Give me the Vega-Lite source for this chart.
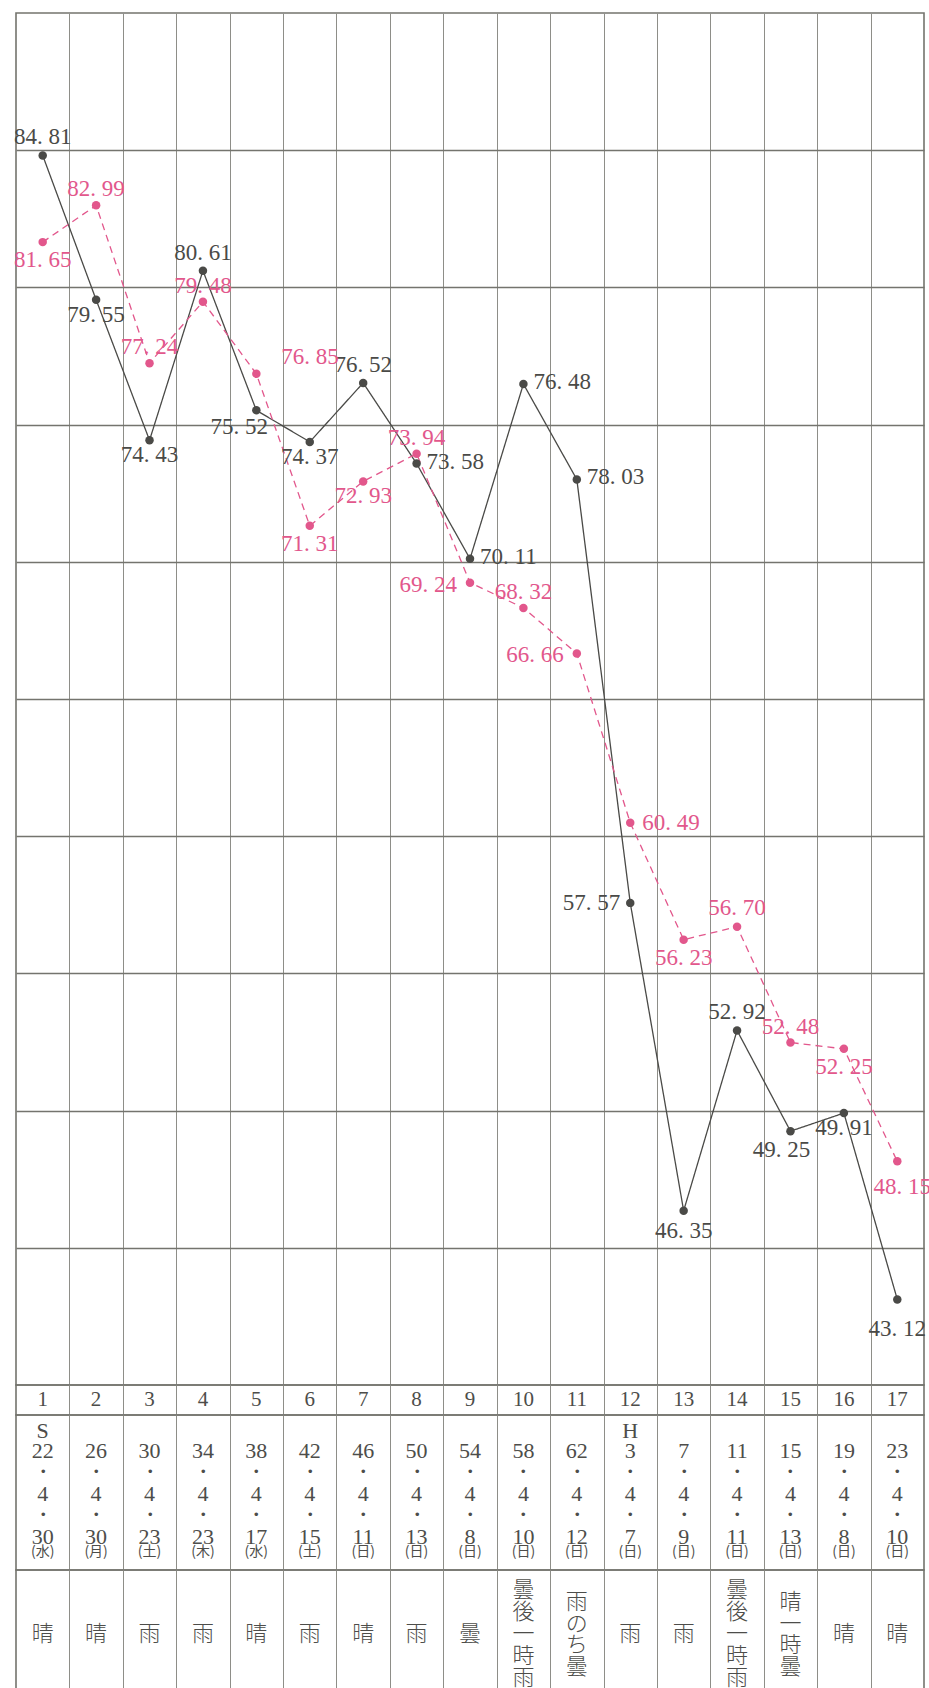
{
  "$schema": "https://vega.github.io/schema/vega-lite/v6.json",
  "padding": {"left": 13, "top": 12, "right": 8, "bottom": 0},
  "spacing": 0,
  "bounds": "flush",
  "background": "white",
  "config": {
    "view": {"stroke": "#74746d", "strokeWidth": 1.6},
    "axis": {"labels": false, "ticks": false, "domain": false, "title": null, "minExtent": 0, "maxExtent": 0, "grid": true, "gridColor": "#8e8e88", "gridWidth": 1, "gridOpacity": 1},
    "text": {"font": "Liberation Serif"}
  },
  "datasets": {
    "rates": [
      {"n": 1, "series": "a", "v": 84.81, "label": "84.81"},
      {"n": 2, "series": "a", "v": 79.55, "label": "79.55"},
      {"n": 3, "series": "a", "v": 74.43, "label": "74.43"},
      {"n": 4, "series": "a", "v": 80.61, "label": "80.61"},
      {"n": 5, "series": "a", "v": 75.52, "label": "75.52"},
      {"n": 6, "series": "a", "v": 74.37, "label": "74.37"},
      {"n": 7, "series": "a", "v": 76.52, "label": "76.52"},
      {"n": 8, "series": "a", "v": 73.58, "label": "73.58"},
      {"n": 9, "series": "a", "v": 70.11, "label": "70.11"},
      {"n": 10, "series": "a", "v": 76.48, "label": "76.48"},
      {"n": 11, "series": "a", "v": 73.0, "label": "78.03"},
      {"n": 12, "series": "a", "v": 57.57, "label": "57.57"},
      {"n": 13, "series": "a", "v": 46.35, "label": "46.35"},
      {"n": 14, "series": "a", "v": 52.92, "label": "52.92"},
      {"n": 15, "series": "a", "v": 49.25, "label": "49.25"},
      {"n": 16, "series": "a", "v": 49.91, "label": "49.91"},
      {"n": 17, "series": "a", "v": 43.12, "label": "43.12"},
      {"n": 1, "series": "b", "v": 81.65, "label": "81.65"},
      {"n": 2, "series": "b", "v": 82.99, "label": "82.99"},
      {"n": 3, "series": "b", "v": 77.24, "label": "77.24"},
      {"n": 4, "series": "b", "v": 79.48, "label": "79.48"},
      {"n": 5, "series": "b", "v": 76.85, "label": "76.85"},
      {"n": 6, "series": "b", "v": 71.31, "label": "71.31"},
      {"n": 7, "series": "b", "v": 72.93, "label": "72.93"},
      {"n": 8, "series": "b", "v": 73.94, "label": "73.94"},
      {"n": 9, "series": "b", "v": 69.24, "label": "69.24"},
      {"n": 10, "series": "b", "v": 68.32, "label": "68.32"},
      {"n": 11, "series": "b", "v": 66.66, "label": "66.66"},
      {"n": 12, "series": "b", "v": 60.49, "label": "60.49"},
      {"n": 13, "series": "b", "v": 56.23, "label": "56.23"},
      {"n": 14, "series": "b", "v": 56.70, "label": "56.70"},
      {"n": 15, "series": "b", "v": 52.48, "label": "52.48"},
      {"n": 16, "series": "b", "v": 52.25, "label": "52.25"},
      {"n": 17, "series": "b", "v": 48.15, "label": "48.15"}
    ],
    "cols": [
      {"n": 1, "era": "S", "yr": "22", "mo": "4", "dd": "30", "dow": "(水)", "weather": "晴"},
      {"n": 2, "era": "", "yr": "26", "mo": "4", "dd": "30", "dow": "(月)", "weather": "晴"},
      {"n": 3, "era": "", "yr": "30", "mo": "4", "dd": "23", "dow": "(土)", "weather": "雨"},
      {"n": 4, "era": "", "yr": "34", "mo": "4", "dd": "23", "dow": "(木)", "weather": "雨"},
      {"n": 5, "era": "", "yr": "38", "mo": "4", "dd": "17", "dow": "(水)", "weather": "晴"},
      {"n": 6, "era": "", "yr": "42", "mo": "4", "dd": "15", "dow": "(土)", "weather": "雨"},
      {"n": 7, "era": "", "yr": "46", "mo": "4", "dd": "11", "dow": "(日)", "weather": "晴"},
      {"n": 8, "era": "", "yr": "50", "mo": "4", "dd": "13", "dow": "(日)", "weather": "雨"},
      {"n": 9, "era": "", "yr": "54", "mo": "4", "dd": "8", "dow": "(日)", "weather": "曇"},
      {"n": 10, "era": "", "yr": "58", "mo": "4", "dd": "10", "dow": "(日)", "weather": "曇後一時雨"},
      {"n": 11, "era": "", "yr": "62", "mo": "4", "dd": "12", "dow": "(日)", "weather": "雨のち曇"},
      {"n": 12, "era": "H", "yr": "3", "mo": "4", "dd": "7", "dow": "(日)", "weather": "雨"},
      {"n": 13, "era": "", "yr": "7", "mo": "4", "dd": "9", "dow": "(日)", "weather": "雨"},
      {"n": 14, "era": "", "yr": "11", "mo": "4", "dd": "11", "dow": "(日)", "weather": "曇後一時雨"},
      {"n": 15, "era": "", "yr": "15", "mo": "4", "dd": "13", "dow": "(日)", "weather": "晴一時曇"},
      {"n": 16, "era": "", "yr": "19", "mo": "4", "dd": "8", "dow": "(日)", "weather": "晴"},
      {"n": 17, "era": "", "yr": "23", "mo": "4", "dd": "10", "dow": "(日)", "weather": "晴"}
    ]
  },
  "vconcat": [
    {
      "width": 908,
      "height": 1372,
      "data": {"name": "rates"},
      "transform": [{"calculate": "replace(datum.label, '.', '. ')", "as": "txt"}],
      "encoding": {
        "x": {"field": "n", "type": "quantitative", "scale": {"domain": [0.5, 17.5], "nice": false, "zero": false}, "axis": {"values": [1.5, 2.5, 3.5, 4.5, 5.5, 6.5, 7.5, 8.5, 9.5, 10.5, 11.5, 12.5, 13.5, 14.5, 15.5, 16.5]}},
        "y": {"field": "v", "type": "quantitative", "scale": {"domain": [40, 90], "nice": false, "zero": false}, "axis": {"values": [45, 50, 55, 60, 65, 70, 75, 80, 85], "gridColor": "#74746e", "gridWidth": 1.6}},
        "color": {"field": "series", "type": "nominal", "scale": {"domain": ["a", "b"], "range": ["#4a4a47", "#e2578c"]}, "legend": null}
      },
      "layer": [
        {"mark": {"type": "line", "strokeWidth": 1.3}, "encoding": {"strokeDash": {"field": "series", "type": "nominal", "scale": {"domain": ["a", "b"], "range": [[1, 0], [7, 5]]}, "legend": null}}},
        {"mark": {"type": "circle", "size": 72, "opacity": 1}},
        {"transform": [{"filter": "datum.series == 'a' && indexof([1, 4, 7, 14], datum.n) >= 0"}], "mark": {"type": "text", "fontSize": 23, "dy": -18}, "encoding": {"text": {"field": "txt"}}},
        {"transform": [{"filter": "datum.series == 'a' && indexof([2, 3, 6, 16], datum.n) >= 0"}], "mark": {"type": "text", "fontSize": 23, "dy": 15}, "encoding": {"text": {"field": "txt"}}},
        {"transform": [{"filter": "datum.series == 'a' && datum.n == 13"}], "mark": {"type": "text", "fontSize": 23, "dy": 20}, "encoding": {"text": {"field": "txt"}}},
        {"transform": [{"filter": "datum.series == 'a' && datum.n == 15"}], "mark": {"type": "text", "fontSize": 23, "dx": -9, "dy": 19}, "encoding": {"text": {"field": "txt"}}},
        {"transform": [{"filter": "datum.series == 'a' && datum.n == 17"}], "mark": {"type": "text", "fontSize": 23, "dy": 30}, "encoding": {"text": {"field": "txt"}}},
        {"transform": [{"filter": "datum.series == 'a' && datum.n == 5"}], "mark": {"type": "text", "fontSize": 23, "dx": -17, "dy": 17}, "encoding": {"text": {"field": "txt"}}},
        {"transform": [{"filter": "datum.series == 'a' && datum.n == 12"}], "mark": {"type": "text", "fontSize": 23, "align": "right", "dx": -10}, "encoding": {"text": {"field": "txt"}}},
        {"transform": [{"filter": "datum.series == 'a' && indexof([8, 9, 10, 11], datum.n) >= 0"}], "mark": {"type": "text", "fontSize": 23, "align": "left", "dx": 10, "dy": -2}, "encoding": {"text": {"field": "txt"}}},
        {"transform": [{"filter": "datum.series == 'b' && indexof([2, 3, 4, 8, 10, 15], datum.n) >= 0"}], "mark": {"type": "text", "fontSize": 23, "dy": -16}, "encoding": {"text": {"field": "txt"}}},
        {"transform": [{"filter": "datum.series == 'b' && datum.n == 14"}], "mark": {"type": "text", "fontSize": 23, "dy": -19}, "encoding": {"text": {"field": "txt"}}},
        {"transform": [{"filter": "datum.series == 'b' && indexof([1, 6, 13, 16], datum.n) >= 0"}], "mark": {"type": "text", "fontSize": 23, "dy": 18}, "encoding": {"text": {"field": "txt"}}},
        {"transform": [{"filter": "datum.series == 'b' && datum.n == 7"}], "mark": {"type": "text", "fontSize": 23, "dy": 15}, "encoding": {"text": {"field": "txt"}}},
        {"transform": [{"filter": "datum.series == 'b' && datum.n == 17"}], "mark": {"type": "text", "fontSize": 23, "dx": 5, "dy": 26}, "encoding": {"text": {"field": "txt"}}},
        {"transform": [{"filter": "datum.series == 'b' && datum.n == 5"}], "mark": {"type": "text", "fontSize": 23, "align": "left", "dx": 25, "dy": -17}, "encoding": {"text": {"field": "txt"}}},
        {"transform": [{"filter": "datum.series == 'b' && indexof([9, 11], datum.n) >= 0"}], "mark": {"type": "text", "fontSize": 23, "align": "right", "dx": -13, "dy": 2}, "encoding": {"text": {"field": "txt"}}},
        {"transform": [{"filter": "datum.series == 'b' && datum.n == 12"}], "mark": {"type": "text", "fontSize": 23, "align": "left", "dx": 12}, "encoding": {"text": {"field": "txt"}}}
      ]
    },
    {
      "width": 908,
      "height": 30,
      "data": {"name": "cols"},
      "mark": {"type": "text", "fontSize": 21, "color": "#4d4d4a"},
      "encoding": {
        "x": {"field": "n", "type": "quantitative", "scale": {"domain": [0.5, 17.5], "nice": false, "zero": false}, "axis": {"values": [1.5, 2.5, 3.5, 4.5, 5.5, 6.5, 7.5, 8.5, 9.5, 10.5, 11.5, 12.5, 13.5, 14.5, 15.5, 16.5]}},
        "text": {"field": "n", "type": "nominal"}
      }
    },
    {
      "width": 908,
      "height": 155,
      "data": {"name": "cols"},
      "encoding": {
        "x": {"field": "n", "type": "quantitative", "scale": {"domain": [0.5, 17.5], "nice": false, "zero": false}, "axis": {"values": [1.5, 2.5, 3.5, 4.5, 5.5, 6.5, 7.5, 8.5, 9.5, 10.5, 11.5, 12.5, 13.5, 14.5, 15.5, 16.5]}}
      },
      "layer": [
        {"transform": [{"calculate": "[datum.yr, '・', datum.mo, '・', datum.dd]", "as": "lines"}], "mark": {"type": "text", "fontSize": 22, "lineHeight": 21.5, "dy": -42, "color": "#4d4d4a"}, "encoding": {"text": {"field": "lines", "type": "nominal"}}},
        {"transform": [{"filter": "datum.era != ''"}], "mark": {"type": "text", "fontSize": 22, "dy": -62, "color": "#4d4d4a"}, "encoding": {"text": {"field": "era", "type": "nominal"}}},
        {"mark": {"type": "text", "fontSize": 14, "dy": 59, "font": "Noto Sans CJK JP", "color": "#4d4d4a"}, "encoding": {"text": {"field": "dow", "type": "nominal"}}}
      ]
    },
    {
      "width": 908,
      "height": 128,
      "data": {"name": "cols"},
      "transform": [{"calculate": "split(datum.weather, '')", "as": "chars"}],
      "encoding": {
        "x": {"field": "n", "type": "quantitative", "scale": {"domain": [0.5, 17.5], "nice": false, "zero": false}, "axis": {"values": [1.5, 2.5, 3.5, 4.5, 5.5, 6.5, 7.5, 8.5, 9.5, 10.5, 11.5, 12.5, 13.5, 14.5, 15.5, 16.5]}},
        "text": {"field": "chars", "type": "nominal"}
      },
      "layer": [
        {"transform": [{"filter": "length(datum.weather) == 1"}], "mark": {"type": "text", "fontSize": 22, "lineHeight": 22, "font": "Noto Sans CJK JP", "fontWeight": 300, "color": "#4d4d4a"}},
        {"transform": [{"filter": "length(datum.weather) == 4"}], "mark": {"type": "text", "fontSize": 22, "lineHeight": 21.5, "dy": -32, "font": "Noto Sans CJK JP", "fontWeight": 300, "color": "#4d4d4a"}},
        {"transform": [{"filter": "length(datum.weather) == 5"}], "mark": {"type": "text", "fontSize": 22, "lineHeight": 22, "dy": -44, "font": "Noto Sans CJK JP", "fontWeight": 300, "color": "#4d4d4a"}}
      ]
    }
  ]
}
